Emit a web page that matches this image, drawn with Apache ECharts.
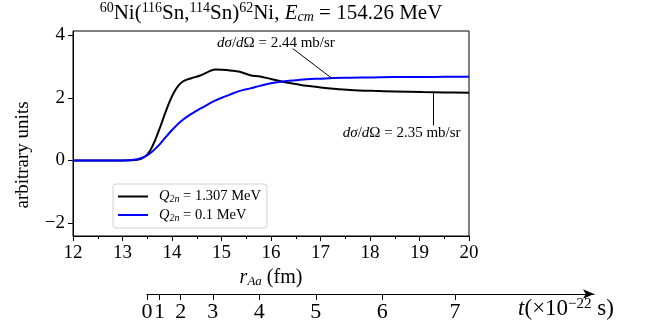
<!DOCTYPE html>
<html>
<head>
<meta charset="utf-8">
<script src="https://cdn.jsdelivr.net/npm/echarts@6/dist/echarts.min.js"></script>
<style>html,body{margin:0;padding:0;background:#fff;}#c{width:649px;height:333px;}</style>
</head>
<body>
<div id="c"></div>
<script>
// ---- data ----
const rValues = [12, 13.0, 13.3, 13.45, 13.56, 13.66, 13.76, 13.86, 13.96, 14.05, 14.13, 14.22, 14.30, 14.45, 14.57, 14.72, 14.87, 15.02, 15.17, 15.37, 15.58, 15.78, 16.0, 16.24, 16.5, 16.72, 17.0, 17.26, 17.6, 18.06, 18.5, 19.07, 19.5, 20];
const q1307 = [0, 0, 0.02, 0.12, 0.32, 0.65, 1.06, 1.5, 1.91, 2.2, 2.39, 2.52, 2.58, 2.65, 2.71, 2.82, 2.90, 2.89, 2.87, 2.83, 2.72, 2.68, 2.6, 2.51, 2.44, 2.38, 2.33, 2.29, 2.25, 2.22, 2.2, 2.18, 2.17, 2.16];
const q01 = [0, 0, 0.04, 0.12, 0.23, 0.37, 0.53, 0.72, 0.9, 1.05, 1.18, 1.3, 1.39, 1.54, 1.65, 1.78, 1.91, 2.01, 2.1, 2.22, 2.3, 2.38, 2.46, 2.52, 2.56, 2.59, 2.61, 2.63, 2.64, 2.65, 2.66, 2.66, 2.67, 2.67];
const seriesNames = ['Q_2n = 1.307 MeV', 'Q_2n = 0.1 MeV'];
const xTicks = [12, 13, 14, 15, 16, 17, 18, 19, 20];
const yTicks = [-2, 0, 2, 4];
const timeLabels = ['0', '1', '2', '3', '4', '5', '6', '7'];
const timeAtR = [13.49, 13.745, 14.17, 14.82, 15.76, 16.9, 18.24, 19.71];
const annot1 = {text: [16.1, 3.73], from: [16.44, 3.57], to: [17.23, 2.62], value: '2.44'};
const annot2 = {text: [18.64, 0.86], from: [19.27, 1.12], to: [19.27, 2.15], value: '2.35'};

const FONT = 'Liberation Serif';
const chart = echarts.init(document.getElementById('c'), null, {renderer: 'canvas'});
const mk = arr => rValues.map((r, i) => [r, arr[i]]);
const minus = v => String(v).replace('-', '\u2212');

const legendRich = {
  i: {fontFamily: FONT, fontStyle: 'italic', fontSize: 14.5, color: '#000'},
  s: {fontFamily: FONT, fontStyle: 'italic', fontSize: 10, color: '#000', padding: [6, 0, 0, 0]},
  n: {fontFamily: FONT, fontSize: 14.5, color: '#000'}
};

const option = {
  animation: false,
  backgroundColor: '#fff',
  grid: [
    {left: 73, right: 180, top: 31, bottom: 97, show: true, borderColor: '#000', borderWidth: 1, backgroundColor: 'transparent'},
    {left: 147, width: 447, top: 270, height: 24}
  ],
  xAxis: [
    {
      type: 'value', gridIndex: 0, min: 12, max: 20, interval: 1,
      axisLine: {show: true, onZero: false, lineStyle: {color: '#000', width: 1}},
      axisTick: {show: true, length: 5, lineStyle: {color: '#000'}},
      minorTick: {show: true, splitNumber: 2, length: 3, lineStyle: {color: '#000'}},
      splitLine: {show: false},
      axisLabel: {color: '#000', fontFamily: FONT, fontSize: 19, margin: 8},
      name: '{i|r}{s|Aa}{n| (fm)}', nameLocation: 'middle', nameGap: 24,
      nameTextStyle: {rich: {
        i: {fontFamily: FONT, fontStyle: 'italic', fontSize: 20, color: '#000'},
        s: {fontFamily: FONT, fontStyle: 'italic', fontSize: 13, color: '#000', padding: [8, 0, 0, 0]},
        n: {fontFamily: FONT, fontSize: 20, color: '#000'}
      }}
    },
    {
      type: 'value', gridIndex: 1, min: 13.49, max: 13.49 + 447 / 49.5, position: 'bottom',
      axisLine: {show: true, onZero: false, symbol: ['none', 'arrow'], symbolSize: [7, 11], lineStyle: {color: '#000', width: 1}},
      axisTick: {show: true, length: 6, inside: false, customValues: timeAtR, lineStyle: {color: '#000'}},
      splitLine: {show: false},
      axisLabel: {
        color: '#000', fontFamily: FONT, fontSize: 22, margin: 7, customValues: timeAtR, hideOverlap: false,
        showMinLabel: true,
        formatter: v => {
          let best = 0;
          timeAtR.forEach((r, i) => { if (Math.abs(r - v) < Math.abs(timeAtR[best] - v)) best = i; });
          return timeLabels[best];
        }
      }
    }
  ],
  yAxis: [
    {
      type: 'value', gridIndex: 0, min: -2.41, max: 4.13,
      axisLine: {show: true, onZero: false, lineStyle: {color: '#000', width: 1}},
      axisTick: {show: true, length: 5, customValues: yTicks, lineStyle: {color: '#000'}},
      splitLine: {show: false},
      axisLabel: {color: '#000', fontFamily: FONT, fontSize: 19, margin: 8, customValues: yTicks, formatter: v => minus(v)}
    },
    {type: 'value', gridIndex: 1, show: false, min: 0, max: 1}
  ],
  legend: {
    orient: 'vertical', left: 113, top: 184,
    padding: [5, 6, 5, 5],
    itemGap: 3,
    itemWidth: 30, itemHeight: 2,
    icon: 'rect',
    borderColor: '#d0d0d0', borderWidth: 1, borderRadius: 3, backgroundColor: '#fff',
    data: seriesNames,
    formatter: name => {
      const rest = name.replace('Q_2n', '');
      return '{i|Q}{s|2n}{n|' + rest + '}';
    },
    textStyle: {rich: legendRich, padding: [0, 0, 0, 6]}
  },
  series: [
    {
      name: seriesNames[0], type: 'line', xAxisIndex: 0, yAxisIndex: 0,
      data: mk(q1307), smooth: 0.35, showSymbol: false, symbol: 'none',
      lineStyle: {color: '#000', width: 2}, itemStyle: {color: '#000'}, z: 3
    },
    {
      name: seriesNames[1], type: 'line', xAxisIndex: 0, yAxisIndex: 0,
      data: mk(q01), smooth: 0.35, showSymbol: false, symbol: 'none',
      lineStyle: {color: '#0000ff', width: 2}, itemStyle: {color: '#0000ff'}, z: 4
    },
    {
      type: 'line', xAxisIndex: 0, yAxisIndex: 0, data: [], silent: true,
      markLine: {
        silent: true, symbol: ['none', 'none'], label: {show: false},
        lineStyle: {color: '#000', width: 1, type: 'solid'},
        data: [
          [{coord: annot1.from}, {coord: annot1.to}],
          [{coord: annot2.from}, {coord: annot2.to}]
        ]
      }
    }
  ]
};
chart.setOption(option);

function annText(a) {
  const p = chart.convertToPixel({gridIndex: 0}, a.text);
  return {
    type: 'text', x: p[0], y: p[1], z: 10,
    style: {
      text: '{i|dσ}{n|/}{i|d}{n|Ω = ' + a.value + ' mb/sr}',
      align: 'center', verticalAlign: 'middle',
      rich: {
        i: {fontFamily: FONT, fontStyle: 'italic', fontSize: 15, fill: '#000'},
        n: {fontFamily: FONT, fontSize: 15, fill: '#000'}
      }
    }
  };
}
const supRich = {
  n: {fontFamily: FONT, fontSize: 21, fill: '#000'},
  i: {fontFamily: FONT, fontStyle: 'italic', fontSize: 21, fill: '#000'},
  sup: {fontFamily: FONT, fontSize: 14, fill: '#000', padding: [0, 0, 9, 0]},
  sub: {fontFamily: FONT, fontStyle: 'italic', fontSize: 14, fill: '#000', padding: [8, 0, 0, 0]}
};
const timeRich = {
  n: {fontFamily: FONT, fontSize: 23, fill: '#000'},
  i: {fontFamily: FONT, fontStyle: 'italic', fontSize: 23, fill: '#000'},
  sup: {fontFamily: FONT, fontSize: 15, fill: '#000', padding: [0, 0, 10, 0]}
};
chart.setOption({
  graphic: [
    annText(annot1),
    annText(annot2),
    {
      type: 'text', x: 271, y: 13, z: 10,
      style: {
        text: '{sup|60}{n|Ni(}{sup|116}{n|Sn,}{sup|114}{n|Sn)}{sup|62}{n|Ni, }{i|E}{sub|cm}{n| = 154.26 MeV}',
        align: 'center', verticalAlign: 'middle', rich: supRich
      }
    },
    {
      type: 'text', x: 23, y: 155, rotation: Math.PI / 2, z: 10,
      style: {text: 'arbitrary units', align: 'center', verticalAlign: 'middle', fontFamily: FONT, fontSize: 19, fill: '#000'}
    },
    {
      type: 'text', x: 566, y: 309, z: 10,
      style: {
        text: '{i|t}{n|(×10}{sup|−22}{n| s)}',
        align: 'center', verticalAlign: 'middle', rich: timeRich
      }
    }
  ]
});
</script>
</body>
</html>
